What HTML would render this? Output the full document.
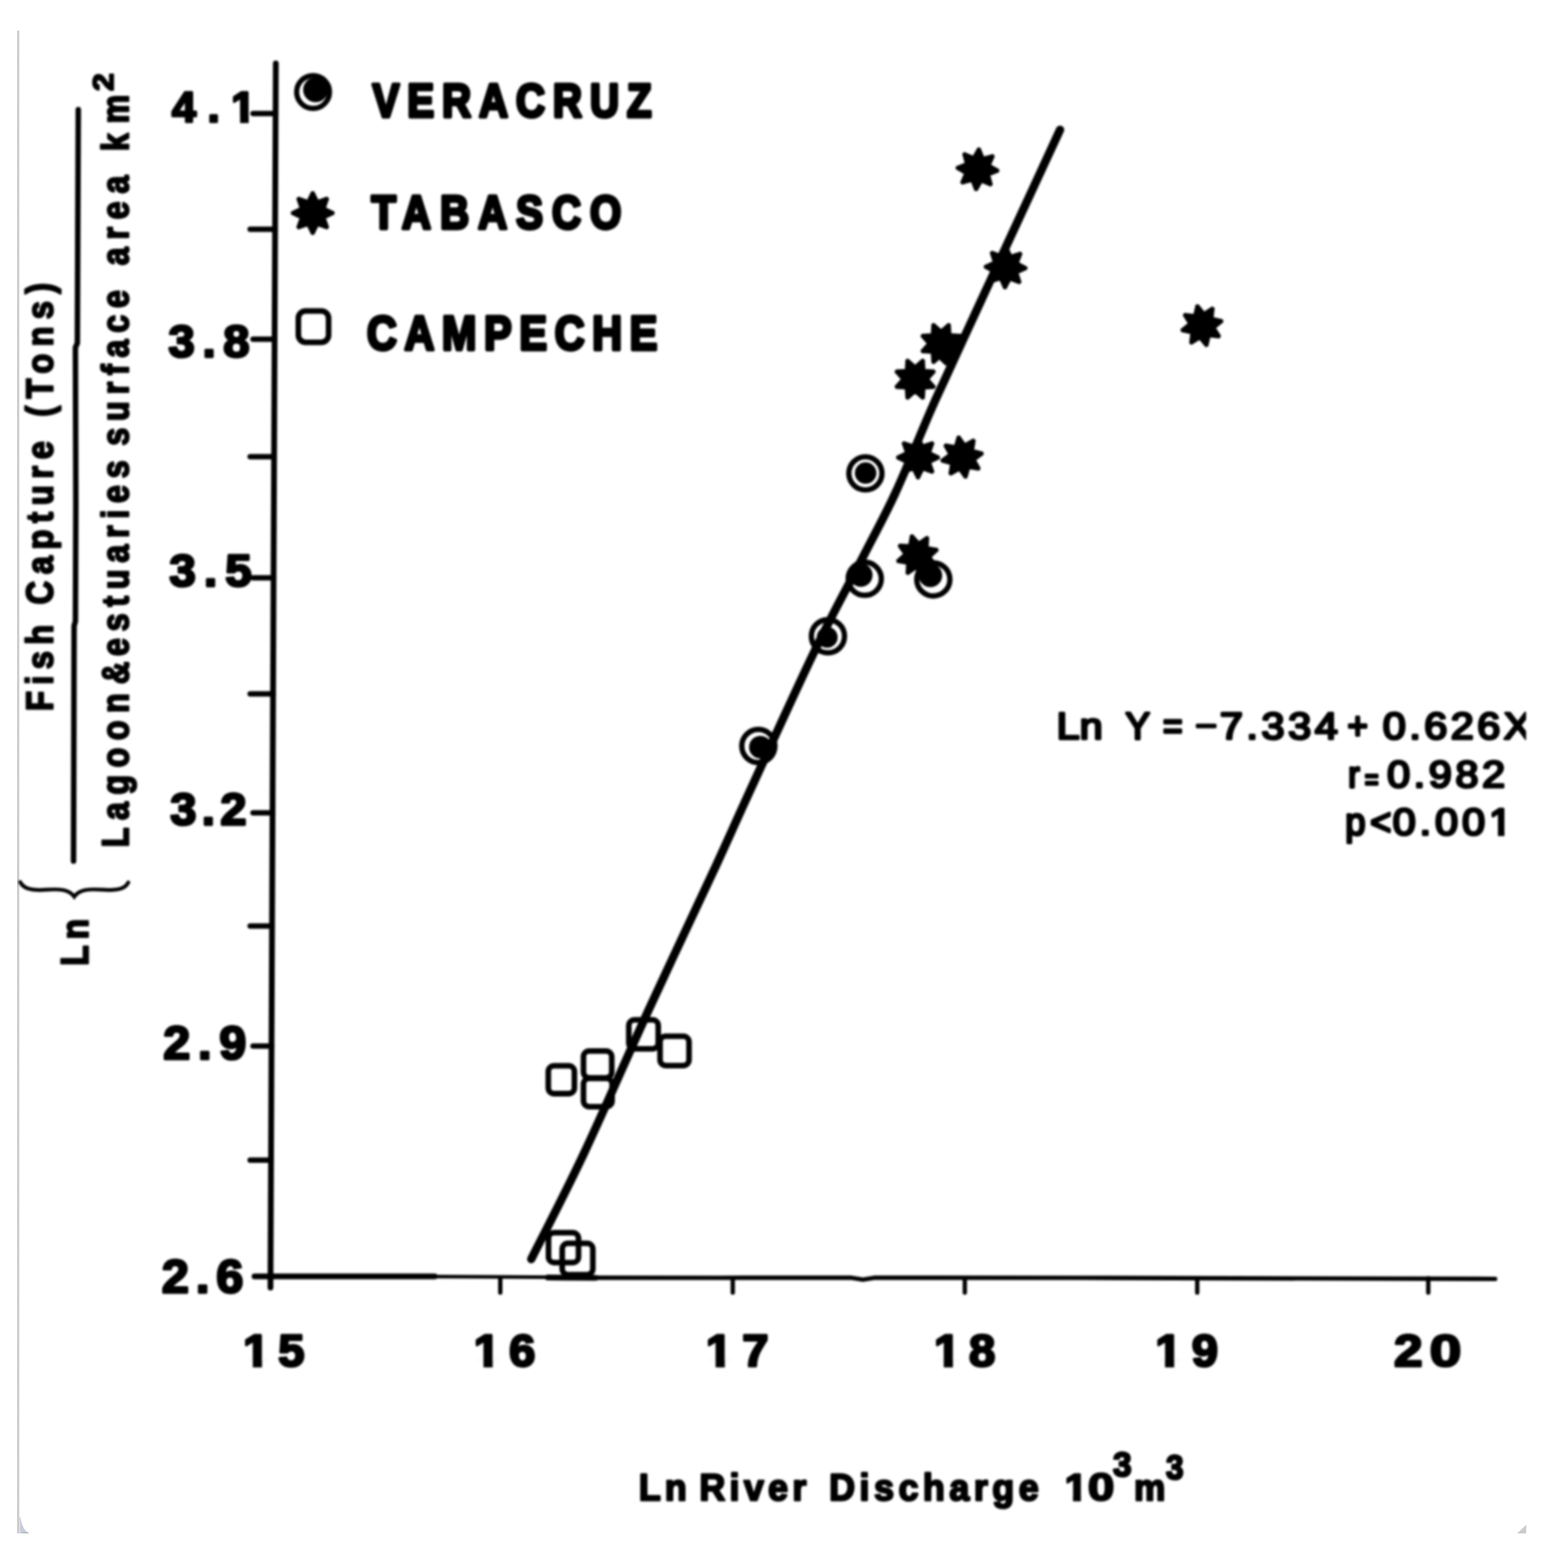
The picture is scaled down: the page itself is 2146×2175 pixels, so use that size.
<!DOCTYPE html>
<html lang="en">
<head>
<meta charset="utf-8">
<title>Fish capture vs. river discharge</title>
<style>
html,body{margin:0;padding:0;background:#fff;}
body{width:2146px;height:2175px;overflow:hidden;}
svg{display:block;}
svg text{font-family:"Liberation Sans",sans-serif;fill:#000;}
</style>
</head>
<body>
<svg width="2146" height="2175" viewBox="0 0 2146 2175" role="img" aria-label="Scatter plot of Ln fish capture per lagoon area against Ln river discharge">
<defs>
<clipPath id="clipR"><rect x="0" y="0" width="2117" height="2175"/></clipPath>
<clipPath id="nf0"><path clip-rule="evenodd" d="M-50 -70.2H178.3V29.2H-50ZM80.00 -8.24H91.96V3.77H80.00ZM103.53 -8.24H114.75V3.77H103.53Z"/></clipPath>
<clipPath id="nf1"><path clip-rule="evenodd" d="M-50 -76.1H144.7V31.7H-50ZM0.22 -8.75H13.03V3.77H0.22ZM25.28 -8.75H37.28V3.77H25.28Z"/></clipPath>
<clipPath id="nf2"><path clip-rule="evenodd" d="M-50 -76.1H144.9V31.7H-50ZM0.22 -8.75H13.03V3.77H0.22ZM25.28 -8.75H37.28V3.77H25.28Z"/></clipPath>
<clipPath id="nf3"><path clip-rule="evenodd" d="M-50 -76.1H147.9V31.7H-50ZM0.22 -8.75H13.03V3.77H0.22ZM25.28 -8.75H37.28V3.77H25.28Z"/></clipPath>
<clipPath id="nf4"><path clip-rule="evenodd" d="M-50 -76.1H144.3V31.7H-50ZM0.22 -8.75H13.03V3.77H0.22ZM25.28 -8.75H37.28V3.77H25.28Z"/></clipPath>
<clipPath id="nf5"><path clip-rule="evenodd" d="M-50 -76.1H148.2V31.7H-50ZM0.22 -8.75H13.03V3.77H0.22ZM25.28 -8.75H37.28V3.77H25.28Z"/></clipPath>
<clipPath id="nf6"><path clip-rule="evenodd" d="M-50 -61.4H202.6V25.6H-50ZM119.37 -6.11H130.33V3.79H119.37ZM138.43 -6.11H149.00V3.79H138.43Z"/></clipPath>
<clipPath id="nf7"><path clip-rule="evenodd" d="M-50 -62.8H79.1V26.2H-50ZM-0.15 -7.29H10.77V3.45H-0.15ZM20.84 -7.29H31.09V3.45H20.84Z"/></clipPath>
<linearGradient id="edge" x1="0" y1="0" x2="1" y2="0"><stop offset="0" stop-color="#b9b9bc"/><stop offset="0.3" stop-color="#c9c9cc"/><stop offset="0.65" stop-color="#e6e6e8" stop-opacity="0.8"/><stop offset="1" stop-color="#ffffff" stop-opacity="0"/></linearGradient>
<filter id="soft2" color-interpolation-filters="sRGB" x="0" y="0" width="2146" height="2175" filterUnits="userSpaceOnUse"><feGaussianBlur stdDeviation="0.7"/></filter>
<filter id="soft" color-interpolation-filters="sRGB" x="0" y="0" width="2146" height="2175" filterUnits="userSpaceOnUse"><feGaussianBlur stdDeviation="1.5"/></filter>
</defs>
<rect x="0" y="0" width="2146" height="2175" fill="#fff"/>
<g filter="url(#soft2)">
<path d="M26 2103 L28.6 2105 C30 2116 33.5 2122.5 40 2127 L26 2127 Z" fill="#c8cbd8"/>
<rect x="24" y="42.5" width="4.6" height="2084.5" fill="url(#edge)"/>
<path d="M31.5 2125.4 L39 2125.4 L40 2127 L31.5 2127 Z" fill="#b4b6ba"/>
<path d="M2117.2 2115 L2117.2 2127 L2104.8 2127 Z" fill="#cbcbcb"/>
</g>
<g filter="url(#soft)">
<g stroke="#000" stroke-linecap="round" fill="none">
<line x1="382.6" y1="88" x2="375.2" y2="1786" stroke-width="8"/>
<path d="M353 1770.5 L603 1770.5" stroke-width="7.8"/>
<path d="M600 1770.8 L700 1771.3 L830 1772" stroke-width="5"/>
<path d="M760 1772 L826 1772.5" stroke-width="8"/>
<path d="M826 1772.3 L1000 1772.5 L1180 1772.3 L1197 1775 L1214 1772.3 L1500 1772.5 L2074 1774" stroke-width="6.2" stroke-linejoin="round"/>
<line x1="351" y1="157.4" x2="382.3" y2="157.4" stroke-width="7.5"/>
<line x1="347" y1="318" x2="381.6" y2="318" stroke-width="7.5"/>
<line x1="351" y1="470.5" x2="380.9" y2="470.5" stroke-width="7.5"/>
<line x1="347" y1="633.5" x2="380.2" y2="633.5" stroke-width="7.5"/>
<line x1="351" y1="801.4" x2="379.5" y2="801.4" stroke-width="7.5"/>
<line x1="347" y1="962.6" x2="378.8" y2="962.6" stroke-width="7.5"/>
<line x1="351" y1="1127.4" x2="378.1" y2="1127.4" stroke-width="7.5"/>
<line x1="347" y1="1284.5" x2="377.4" y2="1284.5" stroke-width="7.5"/>
<line x1="351" y1="1451" x2="376.7" y2="1451" stroke-width="7.5"/>
<line x1="347" y1="1609.2" x2="376.0" y2="1609.2" stroke-width="7.5"/>
<line x1="694" y1="1773" x2="694" y2="1793" stroke-width="6"/>
<line x1="1016.5" y1="1773" x2="1016.5" y2="1793" stroke-width="6"/>
<line x1="1338.4" y1="1773" x2="1338.4" y2="1793" stroke-width="6"/>
<line x1="1660.8" y1="1773" x2="1660.8" y2="1793" stroke-width="6"/>
<line x1="1981.3" y1="1773" x2="1981.3" y2="1793" stroke-width="6"/>
<path d="M108.6 152 L107.3 476 L104.6 482 L105.2 700 L104.6 862 L102.8 868 L102 1194.5" stroke-width="7.6" stroke-linejoin="round"/>
<path d="M28 1223.5 C33 1233.5 45 1235.5 64 1234.2 C84 1232.8 96 1234 103 1243.8 C110 1234 122 1232.8 142 1234.2 C161 1235.5 173 1234 178 1224" stroke-width="5.2"/>
<path d="M1470.5 180.0 C1459.0 205.0 1419.7 290.0 1401.2 330.0 C1382.7 370.0 1375.0 386.7 1359.6 420.0 C1344.2 453.3 1320.6 504.7 1309.0 530.0 C1297.4 555.3 1301.2 546.3 1290.0 572.0 C1278.8 597.7 1257.1 651.3 1242.0 684.0 C1226.9 716.7 1217.9 732.0 1199.5 768.0 C1181.1 804.0 1158.2 844.7 1131.5 900.0 C1104.8 955.3 1062.0 1050.0 1039.0 1100.0 C1016.0 1150.0 1016.7 1150.0 993.6 1200.0 C970.5 1250.0 930.8 1333.3 900.2 1400.0 C869.6 1466.7 837.2 1542.2 810.0 1600.0 C782.8 1657.8 749.2 1722.1 737.0 1746.5" stroke-width="11.6" stroke-linejoin="round"/>
</g>
<text transform="translate(238.39,169.12) scale(1.0300,1)" font-size="58.47" font-weight="700" letter-spacing="15.661" stroke="#000" stroke-width="3.55" stroke-linejoin="round" clip-path="url(#nf0)">4.1</text>
<text transform="translate(233.80,494.57) scale(1.0300,1)" font-size="63.42" font-weight="700" letter-spacing="10.487" stroke="#000" stroke-width="3.55" stroke-linejoin="round">3.8</text>
<text transform="translate(235.09,813.36) scale(1.0300,1)" font-size="63.84" font-weight="700" letter-spacing="10.936" stroke="#000" stroke-width="3.55" stroke-linejoin="round">3.5</text>
<text transform="translate(236.31,1143.57) scale(1.0300,1)" font-size="63.14" font-weight="700" letter-spacing="7.328" stroke="#000" stroke-width="3.55" stroke-linejoin="round">3.2</text>
<text transform="translate(226.47,1469.05) scale(1.0300,1)" font-size="65.25" font-weight="700" letter-spacing="10.578" stroke="#000" stroke-width="3.55" stroke-linejoin="round">2.9</text>
<text transform="translate(224.46,1792.54) scale(1.0300,1)" font-size="65.54" font-weight="700" letter-spacing="9.389" stroke="#000" stroke-width="3.55" stroke-linejoin="round">2.6</text>
<text transform="translate(337.33,1895.07) scale(1.0300,1)" font-size="63.42" font-weight="700" letter-spacing="12.065" stroke="#000" stroke-width="3.55" stroke-linejoin="round" clip-path="url(#nf1)">15</text>
<text transform="translate(657.33,1895.07) scale(1.0300,1)" font-size="63.42" font-weight="700" letter-spacing="12.203" stroke="#000" stroke-width="3.55" stroke-linejoin="round" clip-path="url(#nf2)">16</text>
<text transform="translate(979.33,1895.07) scale(1.0300,1)" font-size="63.42" font-weight="700" letter-spacing="13.669" stroke="#000" stroke-width="3.55" stroke-linejoin="round" clip-path="url(#nf3)">17</text>
<text transform="translate(1295.83,1895.07) scale(1.0300,1)" font-size="63.42" font-weight="700" letter-spacing="11.862" stroke="#000" stroke-width="3.55" stroke-linejoin="round" clip-path="url(#nf4)">18</text>
<text transform="translate(1602.73,1895.07) scale(1.0300,1)" font-size="63.42" font-weight="700" letter-spacing="13.818" stroke="#000" stroke-width="3.55" stroke-linejoin="round" clip-path="url(#nf5)">19</text>
<text transform="translate(1933.73,1895.07) scale(1.1234,1)" font-size="63.42" font-weight="700" letter-spacing="0.000" stroke="#000" stroke-width="3.39" stroke-linejoin="round">2</text><text transform="translate(1983.17,1895.07) scale(1.2467,1)" font-size="63.42" font-weight="700" letter-spacing="0.000" stroke="#000" stroke-width="3.20" stroke-linejoin="round">0</text>
<circle cx="434.3" cy="127.6" r="22.8" fill="none" stroke="#000" stroke-width="7.2"/>
<circle cx="437.7" cy="124.6" r="17.2" fill="#000"/>
<polygon points="432.5,266.3 435.1,266.3 440.9,278.3 453.5,273.9 455.4,275.8 451.0,288.4 463.0,294.2 463.0,296.8 451.0,302.6 455.4,315.2 453.5,317.1 440.9,312.7 435.1,324.7 432.5,324.7 426.7,312.7 414.1,317.1 412.2,315.2 416.6,302.6 404.6,296.8 404.6,294.2 416.6,288.4 412.2,275.8 414.1,273.9 426.7,278.3" fill="#000" stroke="#000" stroke-width="2.2" stroke-linejoin="round"/>
<rect x="413.9" y="431.4" width="41.9" height="43.4" rx="10" ry="10" fill="none" stroke="#000" stroke-width="7.8"/>
<text transform="translate(516.72,162.05) scale(0.8600,1)" font-size="64.83" font-weight="700" letter-spacing="12.846" stroke="#000" stroke-width="4.95" stroke-linejoin="round">VERACRUZ</text>
<text transform="translate(515.17,317.05) scale(0.8600,1)" font-size="64.83" font-weight="700" letter-spacing="14.574" stroke="#000" stroke-width="4.95" stroke-linejoin="round">TABASCO</text>
<text transform="translate(508.94,484.53) scale(0.8600,1)" font-size="66.81" font-weight="700" letter-spacing="12.327" stroke="#000" stroke-width="4.95" stroke-linejoin="round">CAMPECHE</text>
<rect x="760.6" y="1478.3" width="36.2" height="38.7" rx="8" ry="8" fill="none" stroke="#000" stroke-width="7.8"/>
<rect x="809.4" y="1457.9" width="39.2" height="37.2" rx="8" ry="8" fill="none" stroke="#000" stroke-width="7.8"/>
<rect x="809.4" y="1495.9" width="39.7" height="39.2" rx="8" ry="8" fill="none" stroke="#000" stroke-width="7.8"/>
<rect x="872.3" y="1414.6" width="40.8" height="40.2" rx="8" ry="8" fill="none" stroke="#000" stroke-width="7.8"/>
<rect x="915.6" y="1437.4" width="40.2" height="40.7" rx="8" ry="8" fill="none" stroke="#000" stroke-width="7.8"/>
<rect x="760.9" y="1709.9" width="41.6" height="41.5" rx="8" ry="8" fill="none" stroke="#000" stroke-width="7.8"/>
<rect x="779.9" y="1724.6" width="42.5" height="43.5" rx="8" ry="8" fill="none" stroke="#000" stroke-width="7.8"/>
<circle cx="1200.5" cy="656.6" r="23.0" fill="none" stroke="#000" stroke-width="7.4"/>
<circle cx="1200.8" cy="656.2" r="14.9" fill="#000"/>
<circle cx="1199.6" cy="802.8" r="23.0" fill="none" stroke="#000" stroke-width="7.4"/>
<circle cx="1194.1" cy="797.8" r="16.3" fill="#000"/>
<circle cx="1294.7" cy="803.7" r="23.0" fill="none" stroke="#000" stroke-width="7.4"/>
<circle cx="1290.7" cy="798.2" r="16.3" fill="#000"/>
<circle cx="1148.5" cy="882.5" r="23.0" fill="none" stroke="#000" stroke-width="7.4"/>
<circle cx="1147.5" cy="884.0" r="14.5" fill="#000"/>
<circle cx="1052.0" cy="1034.8" r="23.0" fill="none" stroke="#000" stroke-width="7.4"/>
<circle cx="1054.8" cy="1036.4" r="15.7" fill="#000"/>
<polygon points="1356.7,205.6 1359.4,205.8 1364.3,218.2 1377.1,214.7 1378.9,216.7 1373.6,228.9 1385.2,235.5 1385.0,238.2 1372.6,243.1 1376.1,255.9 1374.1,257.7 1361.9,252.4 1355.3,264.0 1352.6,263.8 1347.7,251.4 1334.9,254.9 1333.1,252.9 1338.4,240.7 1326.8,234.1 1327.0,231.4 1339.4,226.5 1335.9,213.7 1337.9,211.9 1350.1,217.2" fill="#000" stroke="#000" stroke-width="2.2" stroke-linejoin="round"/>
<polygon points="1394.7,341.8 1397.3,341.9 1402.7,354.1 1415.4,350.1 1417.2,352.1 1412.4,364.5 1424.2,370.7 1424.1,373.3 1411.9,378.7 1415.9,391.4 1413.9,393.2 1401.5,388.4 1395.3,400.2 1392.7,400.1 1387.3,387.9 1374.6,391.9 1372.8,389.9 1377.6,377.5 1365.8,371.3 1365.9,368.7 1378.1,363.3 1374.1,350.6 1376.1,348.8 1388.5,353.6" fill="#000" stroke="#000" stroke-width="2.2" stroke-linejoin="round"/>
<polygon points="1315.4,449.0 1317.9,450.1 1318.7,463.3 1331.9,464.1 1333.0,466.6 1324.1,476.5 1333.0,486.4 1331.9,488.9 1318.7,489.7 1317.9,502.9 1315.4,504.0 1305.5,495.1 1295.6,504.0 1293.1,502.9 1292.3,489.7 1279.1,488.9 1278.0,486.4 1286.9,476.5 1278.0,466.6 1279.1,464.1 1292.3,463.3 1293.1,450.1 1295.6,449.0 1305.5,457.9" fill="#000" stroke="#000" stroke-width="2.2" stroke-linejoin="round"/>
<polygon points="1279.4,498.5 1281.9,499.6 1282.7,512.8 1295.9,513.6 1297.0,516.1 1288.1,526.0 1297.0,535.9 1295.9,538.4 1282.7,539.2 1281.9,552.4 1279.4,553.5 1269.5,544.6 1259.6,553.5 1257.1,552.4 1256.3,539.2 1243.1,538.4 1242.0,535.9 1250.9,526.0 1242.0,516.1 1243.1,513.6 1256.3,512.8 1257.1,499.6 1259.6,498.5 1269.5,507.4" fill="#000" stroke="#000" stroke-width="2.2" stroke-linejoin="round"/>
<polygon points="1272.2,605.4 1274.8,605.4 1280.6,617.4 1293.2,613.0 1295.1,614.9 1290.7,627.5 1302.7,633.3 1302.7,635.9 1290.7,641.7 1295.1,654.3 1293.2,656.2 1280.6,651.8 1274.8,663.8 1272.2,663.8 1266.4,651.8 1253.8,656.2 1251.9,654.3 1256.3,641.7 1244.3,635.9 1244.3,633.3 1256.3,627.5 1251.9,614.9 1253.8,613.0 1266.4,617.4" fill="#000" stroke="#000" stroke-width="2.2" stroke-linejoin="round"/>
<polygon points="1328.2,605.5 1330.8,605.0 1338.6,615.8 1350.2,609.3 1352.4,610.9 1350.3,624.0 1363.1,627.6 1363.6,630.2 1352.8,638.0 1359.3,649.6 1357.7,651.8 1344.6,649.7 1341.0,662.5 1338.4,663.0 1330.6,652.2 1319.0,658.7 1316.8,657.1 1318.9,644.0 1306.1,640.4 1305.6,637.8 1316.4,630.0 1309.9,618.4 1311.5,616.2 1324.6,618.3" fill="#000" stroke="#000" stroke-width="2.2" stroke-linejoin="round"/>
<polygon points="1263.3,742.8 1265.8,742.1 1274.7,752.0 1285.6,744.3 1287.9,745.6 1287.2,758.9 1300.3,761.2 1301.0,763.7 1291.1,772.6 1298.8,783.5 1297.5,785.8 1284.2,785.1 1281.9,798.2 1279.4,798.9 1270.5,789.0 1259.6,796.7 1257.3,795.4 1258.0,782.1 1244.9,779.8 1244.2,777.3 1254.1,768.4 1246.4,757.5 1247.7,755.2 1261.0,755.9" fill="#000" stroke="#000" stroke-width="2.2" stroke-linejoin="round"/>
<polygon points="1659.4,423.6 1662.0,423.0 1670.4,433.4 1681.6,426.3 1683.9,427.7 1682.4,440.9 1695.4,443.8 1696.0,446.4 1685.6,454.8 1692.7,466.0 1691.3,468.3 1678.1,466.8 1675.2,479.8 1672.6,480.4 1664.2,470.0 1653.0,477.1 1650.7,475.7 1652.2,462.5 1639.2,459.6 1638.6,457.0 1649.0,448.6 1641.9,437.4 1643.3,435.1 1656.5,436.6" fill="#000" stroke="#000" stroke-width="2.2" stroke-linejoin="round"/>
<path d="M1312 464 L1338 465 L1332 484 L1323 503 L1312 505.5 L1303 497 Z" fill="#000" stroke="#000" stroke-width="3" stroke-linejoin="round"/>
<g clip-path="url(#clipR)">
<text transform="translate(1465.70,1025.09) scale(1.1200,1)" font-size="51.13" font-weight="400" letter-spacing="0.107" stroke="#000" stroke-width="3.58" stroke-linejoin="round">Ln</text>
<text transform="translate(1561.28,1025.09) scale(0.9951,1)" font-size="51.13" font-weight="400" letter-spacing="0.000" stroke="#000" stroke-width="3.81" stroke-linejoin="round">Y</text>
<text transform="translate(1613.23,1025.09) scale(0.9098,1)" font-size="51.13" font-weight="400" letter-spacing="0.000" stroke="#000" stroke-width="3.98" stroke-linejoin="round">=</text>
<text transform="translate(1656.97,1021.49) scale(1.9066,1)" font-size="51.13" font-weight="400" letter-spacing="0.000" stroke="#000" stroke-width="2.61" stroke-linejoin="round">-</text><text transform="translate(1692.16,1025.09) scale(1.1200,1)" font-size="51.13" font-weight="400" letter-spacing="4.533" stroke="#000" stroke-width="3.58" stroke-linejoin="round">7.334</text><text transform="translate(1869.24,1025.09) scale(0.9460,1)" font-size="51.13" font-weight="400" letter-spacing="0.000" stroke="#000" stroke-width="3.91" stroke-linejoin="round">+</text>
<text transform="translate(1918.26,1025.09) scale(1.1200,1)" font-size="51.13" font-weight="400" letter-spacing="4.382" stroke="#000" stroke-width="3.58" stroke-linejoin="round">0.626X</text>
</g>
<text transform="translate(1870.34,1091.59) scale(0.9310,1)" font-size="51.13" font-weight="400" letter-spacing="0.000" stroke="#000" stroke-width="3.94" stroke-linejoin="round">r</text><text transform="translate(1893.30,1094.69) scale(0.7935,1)" font-size="41.24" font-weight="400" letter-spacing="0.000" stroke="#000" stroke-width="4.24" stroke-linejoin="round">=</text><text transform="translate(1924.16,1091.59) scale(1.1200,1)" font-size="51.13" font-weight="400" letter-spacing="4.557" stroke="#000" stroke-width="3.58" stroke-linejoin="round">0.982</text>
<text transform="translate(1866.37,1158.09) scale(0.9800,1)" font-size="51.13" font-weight="400" letter-spacing="6.681" stroke="#000" stroke-width="3.84" stroke-linejoin="round">p&lt;</text><text transform="translate(1931.96,1158.09) scale(1.1200,1)" font-size="51.13" font-weight="400" letter-spacing="4.938" stroke="#000" stroke-width="3.58" stroke-linejoin="round" clip-path="url(#nf6)">0.001</text>
<text transform="translate(886.17,2081.00) scale(0.9500,1)" font-size="52.33" font-weight="700" letter-spacing="5.978" stroke="#000" stroke-width="3.08" stroke-linejoin="round">Ln</text>
<text transform="translate(970.17,2081.00) scale(0.9500,1)" font-size="52.33" font-weight="700" letter-spacing="6.350" stroke="#000" stroke-width="3.08" stroke-linejoin="round">River</text>
<text transform="translate(1150.17,2081.00) scale(0.9500,1)" font-size="52.33" font-weight="700" letter-spacing="6.626" stroke="#000" stroke-width="3.08" stroke-linejoin="round">Discharge</text>
<text transform="translate(1476.96,2081.00) scale(1.0749,1)" font-size="52.33" font-weight="700" letter-spacing="0.000" stroke="#000" stroke-width="2.89" stroke-linejoin="round" clip-path="url(#nf7)">1</text><text transform="translate(1508.88,2081.17) scale(1.2538,1)" font-size="52.82" font-weight="700" letter-spacing="0.000" stroke="#000" stroke-width="2.66" stroke-linejoin="round">0</text><text transform="translate(1543.94,2047.52) scale(0.9635,1)" font-size="48.02" font-weight="700" letter-spacing="0.000" stroke="#000" stroke-width="3.06" stroke-linejoin="round">3</text>
<text transform="translate(1573.30,2081.00) scale(0.9289,1)" font-size="52.33" font-weight="700" letter-spacing="0.000" stroke="#000" stroke-width="3.11" stroke-linejoin="round">m</text><text transform="translate(1617.50,2051.53) scale(0.9226,1)" font-size="47.32" font-weight="700" letter-spacing="0.000" stroke="#000" stroke-width="3.12" stroke-linejoin="round">3</text>
<text transform="rotate(-90) translate(-986.23,72.70) scale(0.8700,1)" font-size="52.03" font-weight="700" letter-spacing="10.220" stroke="#000" stroke-width="2.78" stroke-linejoin="round">Fish</text>
<text transform="rotate(-90) translate(-838.56,72.70) scale(0.8700,1)" font-size="52.03" font-weight="700" letter-spacing="10.682" stroke="#000" stroke-width="2.78" stroke-linejoin="round">Capture</text>
<text transform="rotate(-90) translate(-577.95,72.70) scale(0.8700,1)" font-size="52.03" font-weight="700" letter-spacing="11.637" stroke="#000" stroke-width="2.78" stroke-linejoin="round">(Tons)</text>
<text transform="rotate(-90) translate(-1175.19,177.50) scale(0.8700,1)" font-size="51.45" font-weight="700" letter-spacing="11.967" stroke="#000" stroke-width="2.78" stroke-linejoin="round">Lagoon</text><text transform="rotate(-90) translate(-949.10,177.50) scale(0.8381,1)" font-size="51.45" font-weight="700" letter-spacing="0.000" stroke="#000" stroke-width="2.83" stroke-linejoin="round">&amp;</text><text transform="rotate(-90) translate(-909.95,177.50) scale(0.8700,1)" font-size="51.45" font-weight="700" letter-spacing="10.761" stroke="#000" stroke-width="2.78" stroke-linejoin="round">estuaries</text>
<text transform="rotate(-90) translate(-618.27,177.50) scale(0.8700,1)" font-size="51.45" font-weight="700" letter-spacing="10.871" stroke="#000" stroke-width="2.78" stroke-linejoin="round">surface</text>
<text transform="rotate(-90) translate(-368.01,177.50) scale(0.8700,1)" font-size="51.45" font-weight="700" letter-spacing="12.383" stroke="#000" stroke-width="2.78" stroke-linejoin="round">area</text>
<text transform="rotate(-90) translate(-209.83,177.50) scale(0.8700,1)" font-size="51.45" font-weight="700" letter-spacing="15.635" stroke="#000" stroke-width="2.78" stroke-linejoin="round">km</text><text transform="rotate(-90) translate(-126.33,156.78) scale(1.0654,1)" font-size="41.53" font-weight="700" letter-spacing="0.000" stroke="#000" stroke-width="2.52" stroke-linejoin="round">2</text>
<text transform="rotate(-90) translate(-1339.82,122.20) scale(0.8700,1)" font-size="53.63" font-weight="700" letter-spacing="9.666" stroke="#000" stroke-width="2.78" stroke-linejoin="round">Ln</text>
</g>
</svg>
</body>
</html>
